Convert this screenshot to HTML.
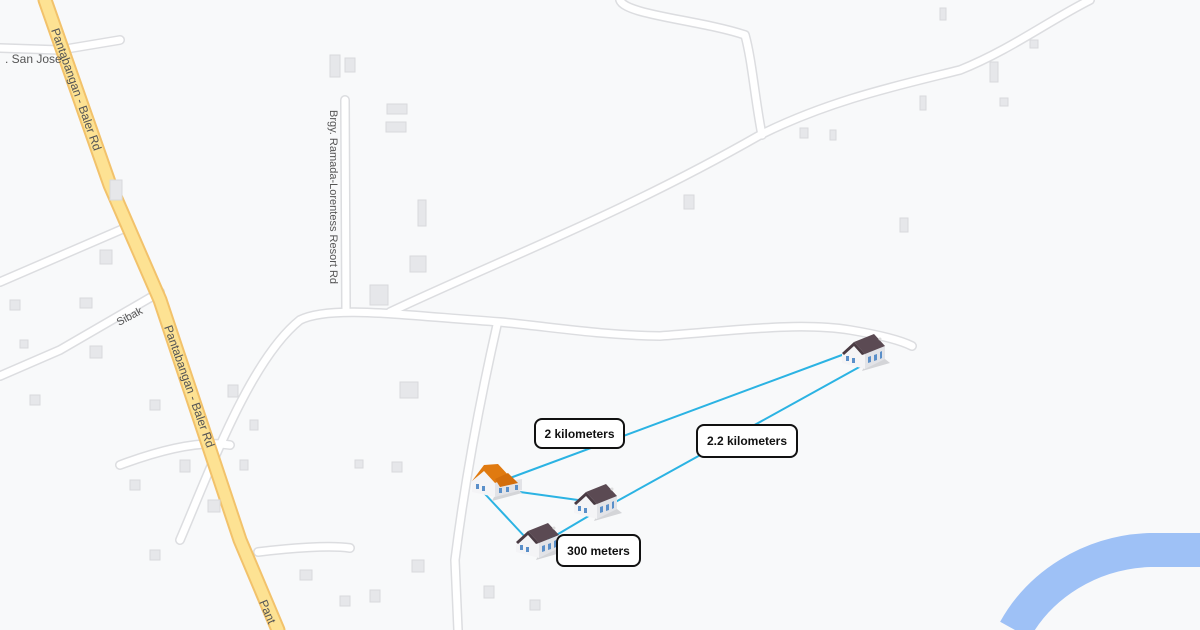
<!DOCTYPE html>
<html><head><meta charset="utf-8"><style>
html,body{margin:0;padding:0;background:#f8f9fa;}
svg{display:block}
text{font-family:"Liberation Sans",sans-serif;}
</style></head><body>
<svg width="1200" height="630" viewBox="0 0 1200 630" xmlns="http://www.w3.org/2000/svg">
<defs>
<g id="house">
<polygon points="22,38 50,30 40,22 26,30" fill="#d4d5d8"/>
<polygon points="2,20 14,9 25,21 25,36 2,30" fill="#f4f4f6"/>
<polygon points="25,21 45,13 45,26 25,36" fill="#e2e3e7"/>
<polygon points="14,9 34,1 45,13 25,21" fill="#5b4a53"/>
<polygon points="2,20 14,9 25,21 22,22 14,13 4,22" fill="#4a3b43"/>
<rect x="6" y="23" width="3" height="5" fill="#5a8fc9"/>
<rect x="12" y="25" width="3" height="5" fill="#5a8fc9"/>
<polygon points="28,24 31,23 31,29 28,30" fill="#5a8fc9"/>
<polygon points="34,22 37,21 37,27 34,28" fill="#5a8fc9"/>
<polygon points="40,19 42,18 42,25 40,26" fill="#5a8fc9"/>
<circle cx="40" cy="6" r="1.5" fill="#ddd"/>
</g>
</defs>
<rect width="1200" height="630" fill="#f8f9fa"/>
<g fill="none" stroke-linecap="round" stroke-linejoin="round">
<g stroke="#dcdde0" stroke-width="10">
<path d="M390,312 C500,260 620,215 760,135 C830,100 900,85 960,70 C1010,50 1050,20 1090,0"/>
<path d="M180,540 C210,470 250,360 300,320 C330,305 400,315 500,322 C560,328 600,335 660,336 C740,330 800,322 850,330 C880,335 900,340 912,346"/>
<path d="M497,325 C480,400 465,480 455,560 L458,630"/>
<path d="M620,0 C625,15 700,20 745,35 C752,60 755,100 762,135"/>
<path d="M345,100 L346,310"/>
<path d="M0,376 L60,350 L160,292"/>
<path d="M0,282 L125,228"/>
<path d="M120,465 C160,450 200,440 230,445"/>
<path d="M258,552 C290,548 330,545 350,548"/>
<path d="M0,48 L60,50 L120,40"/>
</g>
<g stroke="#ffffff" stroke-width="7">
<path d="M390,312 C500,260 620,215 760,135 C830,100 900,85 960,70 C1010,50 1050,20 1090,0"/>
<path d="M180,540 C210,470 250,360 300,320 C330,305 400,315 500,322 C560,328 600,335 660,336 C740,330 800,322 850,330 C880,335 900,340 912,346"/>
<path d="M497,325 C480,400 465,480 455,560 L458,630"/>
<path d="M620,0 C625,15 700,20 745,35 C752,60 755,100 762,135"/>
<path d="M345,100 L346,310"/>
<path d="M0,376 L60,350 L160,292"/>
<path d="M0,282 L125,228"/>
<path d="M120,465 C160,450 200,440 230,445"/>
<path d="M258,552 C290,548 330,545 350,548"/>
<path d="M0,48 L60,50 L120,40"/>
</g>
<path d="M45,0 L110,185 L160,300 L240,540 L278,630" stroke="#f2c26b" stroke-width="15"/>
<path d="M45,0 L110,185 L160,300 L240,540 L278,630" stroke="#fde293" stroke-width="11"/>
<path d="M1015,630 C1040,585 1090,552 1150,550 L1200,550" stroke="#9ec1f6" stroke-width="34" stroke-linecap="butt"/>
</g>
<g fill="#e6e7ea" stroke="#d8d9dc" stroke-width="1">
<rect x="330" y="55" width="10" height="22"/><rect x="345" y="58" width="10" height="14"/><rect x="387" y="104" width="20" height="10"/><rect x="386" y="122" width="20" height="10"/><rect x="418" y="200" width="8" height="26"/><rect x="410" y="256" width="16" height="16"/><rect x="370" y="285" width="18" height="20"/><rect x="400" y="382" width="18" height="16"/><rect x="412" y="560" width="12" height="12"/><rect x="900" y="218" width="8" height="14"/><rect x="920" y="96" width="6" height="14"/><rect x="990" y="62" width="8" height="20"/><rect x="684" y="195" width="10" height="14"/><rect x="110" y="180" width="12" height="20"/><rect x="100" y="250" width="12" height="14"/><rect x="80" y="298" width="12" height="10"/><rect x="90" y="346" width="12" height="12"/><rect x="228" y="385" width="10" height="12"/><rect x="150" y="400" width="10" height="10"/><rect x="180" y="460" width="10" height="12"/><rect x="130" y="480" width="10" height="10"/><rect x="208" y="500" width="12" height="12"/><rect x="150" y="550" width="10" height="10"/><rect x="300" y="570" width="12" height="10"/><rect x="370" y="590" width="10" height="12"/><rect x="340" y="596" width="10" height="10"/><rect x="484" y="586" width="10" height="12"/><rect x="530" y="600" width="10" height="10"/><rect x="940" y="8" width="6" height="12"/><rect x="1030" y="40" width="8" height="8"/><rect x="1000" y="98" width="8" height="8"/><rect x="830" y="130" width="6" height="10"/><rect x="800" y="128" width="8" height="10"/><rect x="30" y="395" width="10" height="10"/><rect x="10" y="300" width="10" height="10"/><rect x="20" y="340" width="8" height="8"/><rect x="240" y="460" width="8" height="10"/><rect x="250" y="420" width="8" height="10"/><rect x="355" y="460" width="8" height="8"/><rect x="392" y="462" width="10" height="10"/></g>
<g stroke="#2bb3e3" stroke-width="2" fill="none">
<line x1="510" y1="478" x2="850" y2="352"/>
<line x1="485" y1="494" x2="526" y2="538"/>
<line x1="520" y1="492" x2="578" y2="500"/>
<line x1="548" y1="540" x2="592" y2="514"/>
<line x1="610" y1="505" x2="872" y2="360"/>
</g>
<use href="#house" x="840" y="333"/>
<use href="#house" x="572" y="483"/>
<use href="#house" x="514" y="522"/>
<g transform="translate(470,463)">
<polygon points="22,38 52,30 42,22 26,30" fill="#d4d5d8"/>
<polygon points="2,18 14,8 25,20 25,34 2,29" fill="#f4f4f6"/>
<polygon points="25,20 52,16 52,27 25,34" fill="#e2e3e7"/>
<polygon points="2,18 14,2 28,1 40,14 25,20 14,8" fill="#e07a10"/>
<polygon points="25,16 38,10 48,20 30,24" fill="#d36e0c"/>
<rect x="6" y="21" width="3" height="5" fill="#5a8fc9"/><rect x="12" y="23" width="3" height="5" fill="#5a8fc9"/>
<rect x="29" y="25" width="3" height="5" fill="#5a8fc9"/><rect x="36" y="24" width="3" height="5" fill="#5a8fc9"/><rect x="45" y="22" width="3" height="5" fill="#5a8fc9"/>
</g>
<g font-size="12" font-weight="bold" fill="#111">
<rect x="535" y="419" width="89" height="29" rx="7" fill="#fff" stroke="#111" stroke-width="2"/>
<text x="579.5" y="438" text-anchor="middle">2 kilometers</text>
<rect x="697" y="425" width="100" height="32" rx="7" fill="#fff" stroke="#111" stroke-width="2"/>
<text x="747" y="445" text-anchor="middle">2.2 kilometers</text>
<rect x="557" y="535" width="83" height="31" rx="7" fill="#fff" stroke="#111" stroke-width="2"/>
<text x="598.5" y="555" text-anchor="middle">300 meters</text>
</g>
<g font-size="12" fill="#555">
<text x="5" y="63">. San Jose</text>
<text transform="translate(51,30) rotate(70.5)">Pantabangan - Baler Rd</text>
<text transform="translate(164,327) rotate(70.5)">Pantabangan - Baler Rd</text>
<text transform="translate(259,602) rotate(67)">Pant</text>
<text transform="translate(330,110) rotate(90)" font-size="11">Brgy. Ramada-Lorentess Resort Rd</text>
<text transform="translate(119,326) rotate(-28)" font-size="11">Sibak</text>
</g>
</svg>
</body></html>
